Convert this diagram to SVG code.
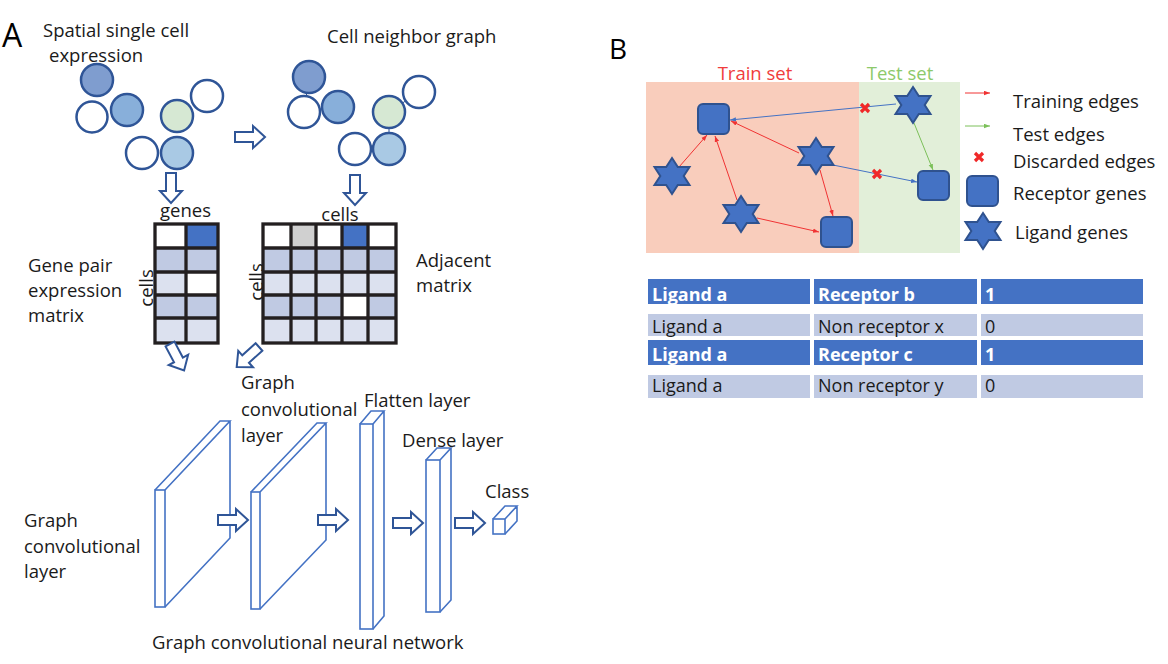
<svg xmlns="http://www.w3.org/2000/svg" xmlns:xlink="http://www.w3.org/1999/xlink" width="1168" height="664" viewBox="0 0 1168 664">
<style>
text{font-family:"Open Sans","Liberation Sans",sans-serif;font-size:18.5px;fill:#1a1a1a}
.lbl{font-size:28px;fill:#000}
.cell{stroke:#2F5597;stroke-width:2.5}
.link{stroke:#2F5597;stroke-width:1}
.blk{fill:#fff;stroke:#2F5597;stroke-width:2;stroke-linejoin:miter}
.grid{fill:none;stroke:#231f20;stroke-width:3.3}
.gl{stroke:#231f20;stroke-width:3.3}
.c0{fill:#fff}.c1{fill:#4472C4}.c2{fill:#C0CAE3}.c3{fill:#DCE1EF}.c4{fill:#D0D0D0}
.slab{fill:none;stroke:#4472C4;stroke-width:1.6;stroke-linejoin:miter}
.rect3{fill:#fff;stroke:#4472C4;stroke-width:1.6}
.gene{fill:#4472C4;stroke:#2F528F;stroke-width:2}
.e{fill:none;stroke-width:1}
.er{stroke:#F03333}.eb{stroke:#4472C4}.eg{stroke:#7CC05A}
.x{stroke:#F02828;stroke-width:3.2;stroke-linecap:butt;fill:none}
.thd{fill:#4472C4}.tld{fill:#C0CAE3}
.tw{fill:#fff;font-weight:bold;font-size:18px}
.tb{font-size:18px}
</style>
<defs>
<path id="blk" d="M0,-5 H18 V-11 L30,0 L18,11 V5 H0 Z"/>
<polygon id="star" points="0,-18 5.8,-9 17.5,-9 11.7,0 17.5,9 5.8,9 0,18 -5.8,9 -17.5,9 -11.7,0 -17.5,-9 -5.8,-9"/>
<marker id="mr" viewBox="0 0 8 6" refX="8" refY="3" markerWidth="6" markerHeight="5" markerUnits="userSpaceOnUse" orient="auto"><path d="M0,0 L8,3 L0,6 Z" fill="#F03333"/></marker>
<marker id="mb" viewBox="0 0 8 6" refX="8" refY="3" markerWidth="6" markerHeight="5" markerUnits="userSpaceOnUse" orient="auto"><path d="M0,0 L8,3 L0,6 Z" fill="#4472C4"/></marker>
<marker id="mg" viewBox="0 0 8 6" refX="8" refY="3" markerWidth="6" markerHeight="5" markerUnits="userSpaceOnUse" orient="auto"><path d="M0,0 L8,3 L0,6 Z" fill="#7CC05A"/></marker>
</defs>
<rect width="1168" height="664" fill="#fff"/>

<!-- Panel A -->
<text class="lbl" x="2" y="47" style="font-size:32px">A</text>
<g id="spatial-expression">
<text x="43" y="37">Spatial single cell</text>
<text x="49" y="62">expression</text>
<circle class="cell" cx="97" cy="80" r="16" fill="#7F9DCF"/>
<circle class="cell" cx="92" cy="117" r="15.5" fill="#fff"/>
<circle class="cell" cx="127" cy="110" r="16" fill="#88AFDA"/>
<circle class="cell" cx="177" cy="116" r="16" fill="#D6E8D3"/>
<circle class="cell" cx="207" cy="96" r="16" fill="#fff"/>
<circle class="cell" cx="142" cy="153" r="16" fill="#fff"/>
<circle class="cell" cx="177" cy="153" r="16" fill="#A9C9E4"/>
</g>
<g id="cell-neighbor-graph">
<text x="327" y="43">Cell neighbor graph</text>
<line class="link" x1="309" y1="77" x2="304" y2="112"/>
<line class="link" x1="304" y1="112" x2="338" y2="107"/>
<line class="link" x1="389" y1="112" x2="419" y2="92"/>
<line class="link" x1="389" y1="112" x2="389" y2="149"/>
<line class="link" x1="355" y1="149" x2="389" y2="149"/>
<circle class="cell" cx="309" cy="77" r="16" fill="#7F9DCF"/>
<circle class="cell" cx="304" cy="112" r="16" fill="#fff"/>
<circle class="cell" cx="338" cy="107" r="16" fill="#88AFDA"/>
<circle class="cell" cx="389" cy="112" r="16" fill="#D6E8D3"/>
<circle class="cell" cx="419" cy="92" r="16" fill="#fff"/>
<circle class="cell" cx="355" cy="149" r="16" fill="#fff"/>
<circle class="cell" cx="389" cy="149" r="16" fill="#A9C9E4"/>
</g>

<g id="gene-pair-matrix">
<text x="160" y="217">genes</text>
<text x="28" y="272">Gene pair</text>
<text x="28" y="297">expression</text>
<text x="28" y="322">matrix</text>
<text transform="translate(153,288) rotate(-90)" text-anchor="middle">cells</text>
<rect class="c0" x="155" y="224" width="31" height="24"/>
<rect class="c1" x="186" y="224" width="32" height="24"/>
<rect class="c2" x="155" y="248" width="63" height="24"/>
<rect class="c3" x="155" y="272" width="31" height="23"/>
<rect class="c0" x="186" y="272" width="32" height="23"/>
<rect class="c2" x="155" y="295" width="63" height="23"/>
<rect class="c3" x="155" y="318" width="63" height="25"/>
<rect class="grid" x="155" y="224" width="63" height="119"/>
<line class="gl" x1="186" y1="224" x2="186" y2="343"/>
<line class="gl" x1="155" y1="248" x2="218" y2="248"/>
<line class="gl" x1="155" y1="272" x2="218" y2="272"/>
<line class="gl" x1="155" y1="295" x2="218" y2="295"/>
<line class="gl" x1="155" y1="318" x2="218" y2="318"/>
</g>

<g id="adjacent-matrix">
<text x="340" y="221" text-anchor="middle">cells</text>
<text x="416" y="267">Adjacent</text>
<text x="416" y="292">matrix</text>
<text transform="translate(263,282) rotate(-90)" text-anchor="middle">cells</text>
<rect class="c0" x="263" y="224" width="28" height="24"/>
<rect class="c4" x="291" y="224" width="25" height="24"/>
<rect class="c0" x="316" y="224" width="26" height="24"/>
<rect class="c1" x="342" y="224" width="26" height="24"/>
<rect class="c0" x="368" y="224" width="28" height="24"/>
<rect class="c2" x="263" y="248" width="133" height="24"/>
<rect class="c3" x="263" y="272" width="133" height="23"/>
<rect class="c2" x="263" y="295" width="133" height="23"/>
<rect class="c0" x="342" y="295" width="26" height="23"/>
<rect class="c3" x="263" y="318" width="133" height="25"/>
<rect class="grid" x="263" y="224" width="133" height="119"/>
<line class="gl" x1="291" y1="224" x2="291" y2="343"/>
<line class="gl" x1="316" y1="224" x2="316" y2="343"/>
<line class="gl" x1="342" y1="224" x2="342" y2="343"/>
<line class="gl" x1="368" y1="224" x2="368" y2="343"/>
<line class="gl" x1="263" y1="248" x2="396" y2="248"/>
<line class="gl" x1="263" y1="272" x2="396" y2="272"/>
<line class="gl" x1="263" y1="295" x2="396" y2="295"/>
<line class="gl" x1="263" y1="318" x2="396" y2="318"/>
</g>

<g id="gcn-layer-1">
<text x="24" y="527">Graph</text>
<text x="24" y="553">convolutional</text>
<text x="24" y="578">layer</text>
<path class="slab" d="M155,490 L220,421 H230 L165,490 M230,421 V538 L165,607"/>
<rect class="rect3" x="155" y="490" width="10" height="117"/>
</g>
<g id="gcn-layer-2">
<text x="241" y="389">Graph</text>
<text x="241" y="416">convolutional</text>
<text x="241" y="442">layer</text>
<path class="slab" d="M251,492 L317,423 H326 L260,492 M326,423 V540 L260,609"/>
<rect class="rect3" x="251" y="492" width="9" height="117"/>
</g>
<g id="flatten-layer">
<text x="364" y="407">Flatten layer</text>
<path class="slab" d="M360,424 L371,411 H384 L373,424 M384,411 V616 L373,629"/>
<rect class="rect3" x="360" y="424" width="13" height="205"/>
</g>
<g id="dense-layer">
<text x="402" y="447">Dense layer</text>
<path class="slab" d="M426,460 L437,448 H451 L440,460 M451,448 V600 L440,612"/>
<rect class="rect3" x="426" y="460" width="14" height="152"/>
</g>
<g id="class-node">
<text x="485" y="498">Class</text>
<path class="slab" d="M493,519 L505,506 H517 L505,519 M517,506 V521 L505,534"/>
<rect class="rect3" x="493" y="519" width="12" height="15"/>
</g>
<text x="152" y="649">Graph convolutional neural network</text>

<g id="connectors-a">
<use href="#blk" class="blk" transform="translate(235,137)"/>
<use href="#blk" class="blk" transform="translate(171,173) rotate(90)"/>
<use href="#blk" class="blk" transform="translate(355,175) rotate(90)"/>
<use href="#blk" class="blk" transform="translate(170,344) rotate(62)"/>
<use href="#blk" class="blk" transform="translate(259,347) rotate(138)"/>
<use href="#blk" class="blk" transform="translate(218,520)"/>
<use href="#blk" class="blk" transform="translate(318,520)"/>
<use href="#blk" class="blk" transform="translate(393,523)"/>
<use href="#blk" class="blk" transform="translate(455,523)"/>
</g>

<!-- Panel B -->
<text class="lbl" x="609" y="59">B</text>
<g id="train-set">
<rect x="646" y="82" width="213" height="171" fill="#F9CDBC"/>
<text x="755" y="80" text-anchor="middle" style="fill:#F03C3C">Train set</text>
</g>
<g id="test-set">
<rect x="859" y="82" width="101" height="171" fill="#E2EFD9"/>
<text x="900" y="80" text-anchor="middle" style="fill:#8DC96A">Test set</text>
</g>

<g id="connectors-b">
<line class="e eb" x1="896" y1="104" x2="730" y2="120" marker-end="url(#mb)"/>
<line class="e er" x1="799" y1="153" x2="731" y2="121" marker-end="url(#mr)"/>
<line class="e er" x1="679" y1="167" x2="707" y2="135" marker-end="url(#mr)"/>
<line class="e er" x1="737" y1="200" x2="715" y2="136" marker-end="url(#mr)"/>
<line class="e er" x1="757" y1="218" x2="819" y2="232" marker-end="url(#mr)"/>
<line class="e er" x1="820" y1="170" x2="833" y2="216" marker-end="url(#mr)"/>
<line class="e eb" x1="833" y1="165" x2="917" y2="182" marker-end="url(#mb)"/>
<line class="e eg" x1="914" y1="123" x2="933" y2="170" marker-end="url(#mg)"/>
<path class="x" d="M861,104 L869,112 M869,104 L861,112"/>
<path class="x" d="M873,170 L881,178 M881,170 L873,178"/>
</g>

<g id="receptor-1"><rect class="gene" x="698" y="104" width="31" height="30" rx="5"/></g>
<g id="receptor-2"><rect class="gene" x="918" y="171" width="31" height="29" rx="5"/></g>
<g id="receptor-3"><rect class="gene" x="821" y="217" width="31" height="30" rx="5"/></g>
<g id="ligand-1"><use href="#star" class="gene" transform="translate(913,105)"/></g>
<g id="ligand-2"><use href="#star" class="gene" transform="translate(816,156)"/></g>
<g id="ligand-3"><use href="#star" class="gene" transform="translate(672,176)"/></g>
<g id="ligand-4"><use href="#star" class="gene" transform="translate(741,214)"/></g>

<g id="legend">
<line class="e er" x1="965" y1="93" x2="990" y2="93" marker-end="url(#mr)"/>
<text x="1013" y="108">Training edges</text>
<line class="e eg" x1="965" y1="126" x2="990" y2="126" marker-end="url(#mg)"/>
<text x="1013" y="141">Test edges</text>
<path class="x" d="M975,153 L983,161 M983,153 L975,161"/>
<text x="1013" y="168">Discarded edges</text>
<rect class="gene" x="967" y="176" width="31" height="30" rx="5"/>
<text x="1013" y="200">Receptor genes</text>
<use href="#star" class="gene" transform="translate(983,231)"/>
<text x="1015" y="239">Ligand genes</text>
</g>

<g id="pair-table">
<rect class="thd" x="648" y="279" width="162" height="25"/>
<rect class="thd" x="814" y="279" width="163" height="25"/>
<rect class="thd" x="981" y="279" width="162" height="25"/>
<text class="tw" x="652" y="301">Ligand a</text>
<text class="tw" x="818" y="301">Receptor b</text>
<text class="tw" x="985" y="301">1</text>
<rect class="tld" x="648" y="314" width="162" height="22"/>
<rect class="tld" x="814" y="314" width="163" height="22"/>
<rect class="tld" x="981" y="314" width="162" height="22"/>
<text class="tb" x="652" y="333">Ligand a</text>
<text class="tb" x="818" y="333">Non receptor x</text>
<text class="tb" x="985" y="333">0</text>
<rect class="thd" x="648" y="340" width="162" height="25"/>
<rect class="thd" x="814" y="340" width="163" height="25"/>
<rect class="thd" x="981" y="340" width="162" height="25"/>
<text class="tw" x="652" y="361">Ligand a</text>
<text class="tw" x="818" y="361">Receptor c</text>
<text class="tw" x="985" y="361">1</text>
<rect class="tld" x="648" y="375" width="162" height="23"/>
<rect class="tld" x="814" y="375" width="163" height="23"/>
<rect class="tld" x="981" y="375" width="162" height="23"/>
<text class="tb" x="652" y="392">Ligand a</text>
<text class="tb" x="818" y="392">Non receptor y</text>
<text class="tb" x="985" y="392">0</text>
</g>
</svg>
